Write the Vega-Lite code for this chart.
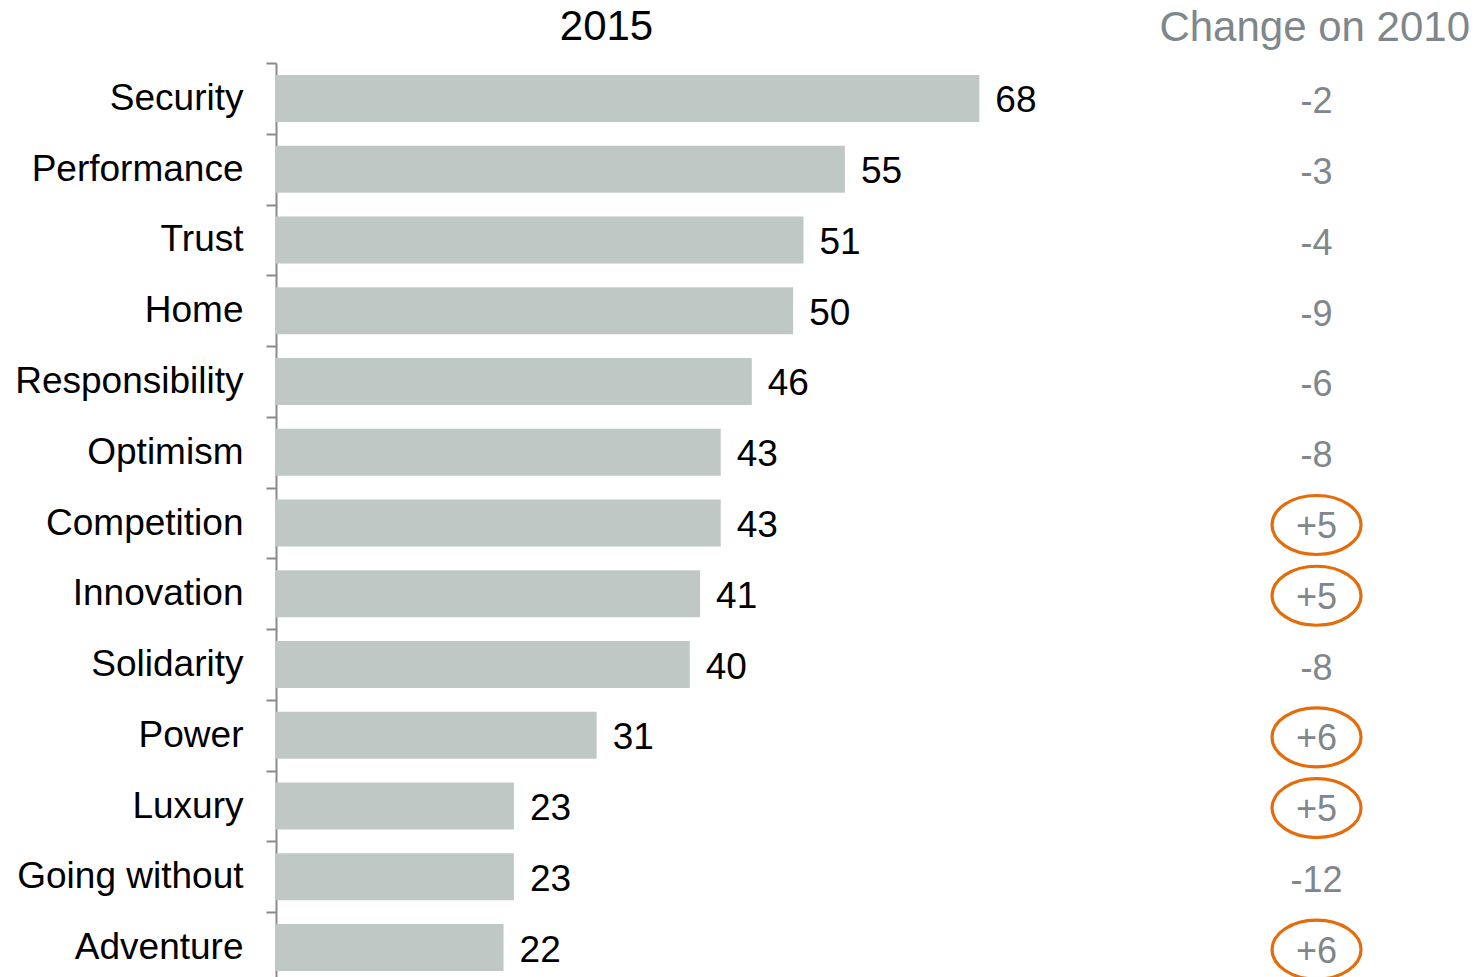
{
  "$schema": "https://vega.github.io/schema/vega-lite/v6.json",
  "width": 1205,
  "height": 920,
  "autosize": {"type": "none"},
  "padding": {"left": 276, "top": 63, "right": 0, "bottom": 0},
  "background": "white",
  "config": {"view": {"stroke": null}, "font": "Liberation Sans"},
  "title": {
    "text": "Change on 2010",
    "anchor": "end",
    "frame": "group",
    "orient": "top",
    "font": "Liberation Sans",
    "fontSize": 42,
    "fontWeight": "normal",
    "color": "#7F878B",
    "dx": -11,
    "offset": -45
  },
  "data": {
    "values": [
      {"category": "Security", "value": 68, "change": -2, "label": "-2"},
      {"category": "Performance", "value": 55, "change": -3, "label": "-3"},
      {"category": "Trust", "value": 51, "change": -4, "label": "-4"},
      {"category": "Home", "value": 50, "change": -9, "label": "-9"},
      {"category": "Responsibility", "value": 46, "change": -6, "label": "-6"},
      {"category": "Optimism", "value": 43, "change": -8, "label": "-8"},
      {"category": "Competition", "value": 43, "change": 5, "label": "+5"},
      {"category": "Innovation", "value": 41, "change": 5, "label": "+5"},
      {"category": "Solidarity", "value": 40, "change": -8, "label": "-8"},
      {"category": "Power", "value": 31, "change": 6, "label": "+6"},
      {"category": "Luxury", "value": 23, "change": 5, "label": "+5"},
      {"category": "Going without", "value": 23, "change": -12, "label": "-12"},
      {"category": "Adventure", "value": 22, "change": 6, "label": "+6"}
    ]
  },
  "encoding": {
    "y": {
      "field": "category",
      "type": "nominal",
      "sort": null,
      "scale": {"paddingInner": 0, "paddingOuter": 0},
      "axis": {
        "title": null,
        "domainColor": "#8a8a8a",
        "domainWidth": 2,
        "tickColor": "#8a8a8a",
        "tickWidth": 2,
        "tickSize": 10,
        "tickBand": "extent",
        "labelFontSize": 37,
        "labelFont": "Liberation Sans",
        "labelColor": "#000000",
        "labelPadding": 23,
        "labelLimit": 500
      }
    }
  },
  "layer": [
    {
      "mark": {"type": "bar", "color": "#C0C8C6", "height": {"band": 0.664}},
      "encoding": {
        "x": {
          "field": "value",
          "type": "quantitative",
          "scale": {"domain": [0, 116.5], "nice": false, "zero": true},
          "axis": {
            "orient": "top",
            "domain": false,
            "ticks": false,
            "labels": false,
            "grid": false,
            "title": "2015",
            "titleFont": "Liberation Sans",
            "titleFontSize": 42,
            "titleFontWeight": "normal",
            "titleColor": "#000000",
            "titleX": 330,
            "titleY": -24,
            "titleAlign": "center",
            "titleBaseline": "alphabetic"
          }
        }
      }
    },
    {
      "mark": {"type": "text", "align": "left", "baseline": "middle", "dx": 16, "dy": 3, "fontSize": 37, "color": "#000000"},
      "encoding": {
        "x": {"field": "value", "type": "quantitative"},
        "text": {"field": "value", "type": "quantitative"}
      }
    },
    {
      "mark": {"type": "text", "align": "center", "baseline": "middle", "dy": 4, "fontSize": 36, "color": "#7F878B"},
      "encoding": {
        "x": {"datum": 100.6, "type": "quantitative"},
        "text": {"field": "label", "type": "nominal"}
      }
    },
    {
      "transform": [{"filter": "datum.change > 0"}],
      "mark": {
        "type": "point",
        "shape": "M -1 0 A 1 0.663 0 1 1 1 0 A 1 0.663 0 1 1 -1 0 Z",
        "size": 7921,
        "filled": false,
        "stroke": "#E46C0A",
        "strokeWidth": 3.2,
        "opacity": 1,
        "yOffset": 2
      },
      "encoding": {
        "x": {"datum": 100.6, "type": "quantitative"}
      }
    }
  ]
}
